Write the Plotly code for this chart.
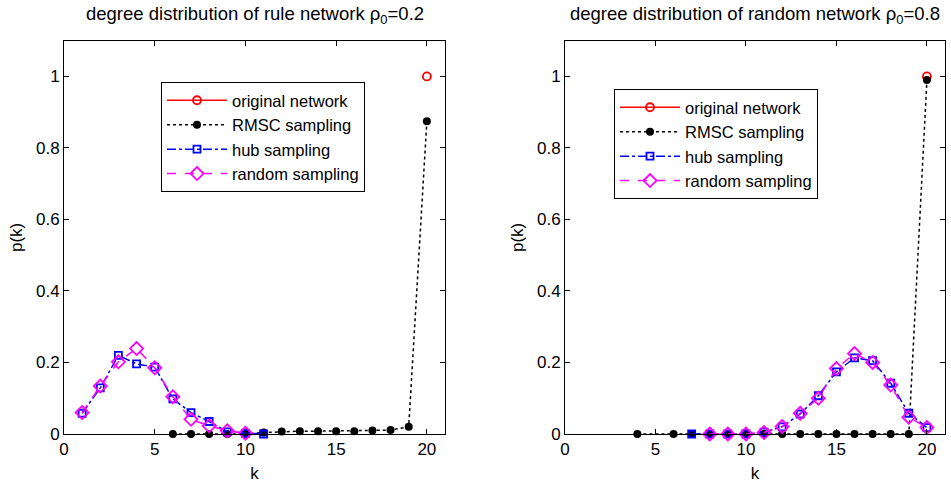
import plotly.graph_objects as go

# ---- data: rule network, rho0 = 0.2 ----
rule_orig_k = [20]
rule_orig_p = [1.0]
rule_rmsc_k = [6, 7, 8, 9, 10, 11, 12, 13, 14, 15, 16, 17, 18, 19, 20]
rule_rmsc_p = [0, 0, 0, 0, 0, 0.004, 0.007, 0.008, 0.008, 0.008, 0.008, 0.01, 0.011, 0.02, 0.875]
rule_hub_k = [1, 2, 3, 4, 5, 6, 7, 8, 9, 10, 11]
rule_hub_p = [0.058, 0.129, 0.22, 0.196, 0.187, 0.098, 0.06, 0.035, 0.006, 0.002, 0]
rule_rand_k = [1, 2, 3, 4, 5, 6, 7, 8, 9, 10]
rule_rand_p = [0.06, 0.134, 0.202, 0.239, 0.185, 0.104, 0.041, 0.023, 0.009, 0.002]

# ---- data: random network, rho0 = 0.8 ----
rand_orig_k = [20]
rand_orig_p = [1.0]
rand_rmsc_k = [4, 6, 7, 8, 9, 10, 11, 12, 13, 14, 15, 16, 17, 18, 19, 20]
rand_rmsc_p = [0, 0, 0, 0, 0, 0, 0, 0, 0, 0, 0, 0, 0, 0, 0, 0.99]
rand_hub_k = [7, 8, 9, 10, 11, 12, 13, 14, 15, 16, 17, 18, 19, 20]
rand_hub_p = [0, 0, 0, 0, 0.005, 0.02, 0.056, 0.107, 0.174, 0.213, 0.205, 0.142, 0.058, 0.018]
rand_rand_k = [8, 9, 10, 11, 12, 13, 14, 15, 16, 17, 18, 19, 20]
rand_rand_p = [0, 0, 0, 0.004, 0.021, 0.058, 0.1, 0.183, 0.225, 0.2, 0.137, 0.047, 0.018]

names = ["original network", "RMSC sampling", "hub sampling", "random sampling"]
x_ticks = [0, 5, 10, 15, 20]
y_ticks = [0, 0.2, 0.4, 0.6, 0.8, 1]
y_tick_text = ["0", "0.2", "0.4", "0.6", "0.8", "1"]

FONT = "Liberation Sans, Arial, Helvetica, sans-serif"

styles = [
    dict(line=dict(color="#ff0000", width=1.5, dash="solid"),
         marker=dict(symbol="circle-open", size=8, color="#ff0000", line=dict(width=1.8, color="#ff0000"))),
    dict(line=dict(color="#000000", width=1.5, dash="dot"),
         marker=dict(symbol="circle", size=8, color="#000000")),
    dict(line=dict(color="#0000ff", width=1.5, dash="dashdot"),
         marker=dict(symbol="square-open", size=7, color="#0000ff", line=dict(width=1.8, color="#0000ff"))),
    dict(line=dict(color="#ff00ff", width=1.5, dash="dash"),
         marker=dict(symbol="diamond-open", size=10, color="#ff00ff", line=dict(width=1.8, color="#ff00ff"))),
]

fig = go.Figure()

panels = [
    ("x", "y", "legend", [(rule_orig_k, rule_orig_p), (rule_rmsc_k, rule_rmsc_p),
                          (rule_hub_k, rule_hub_p), (rule_rand_k, rule_rand_p)]),
    ("x2", "y2", "legend2", [(rand_orig_k, rand_orig_p), (rand_rmsc_k, rand_rmsc_p),
                             (rand_hub_k, rand_hub_p), (rand_rand_k, rand_rand_p)]),
]

for xa, ya, lg, series in panels:
    for name, (k, p), st in zip(names, series, styles):
        fig.add_trace(go.Scatter(x=k, y=p, name=name, mode="lines+markers",
                                 xaxis=xa, yaxis=ya, legend=lg, cliponaxis=False,
                                 line=st["line"], marker=st["marker"]))

axis_common = dict(showgrid=False, zeroline=False, showline=True, linecolor="black",
                   linewidth=1, mirror="ticks", ticks="inside", ticklen=5, tickcolor="black",
                   automargin=False,
                   tickfont=dict(family=FONT, size=17, color="black"))

xdom1 = [64 / 951, 445 / 951]
xdom2 = [565 / 951, 945 / 951]
ydom = [1 - 434 / 485, 1 - 40.7 / 485]

legend_common = dict(xanchor="left", yanchor="top",
                     bgcolor="white", bordercolor="black", borderwidth=1,
                     font=dict(family=FONT, size=16.5, color="black"),
                     tracegroupgap=0, itemwidth=60)

fig.update_layout(
    width=951, height=485,
    margin=dict(l=0, r=0, t=0, b=0),
    paper_bgcolor="white", plot_bgcolor="white",
    font=dict(family=FONT, color="black"),
    xaxis=dict(domain=xdom1, range=[0, 21], tickvals=x_ticks, anchor="y",
               title=dict(text="k", font=dict(size=17), standoff=8), **axis_common),
    yaxis=dict(domain=ydom, range=[0, 1.1], tickvals=y_ticks, ticktext=y_tick_text, anchor="x",
               title=dict(text="p(k)", font=dict(size=17), standoff=9), **axis_common),
    xaxis2=dict(domain=xdom2, range=[0, 21], tickvals=x_ticks, anchor="y2",
                title=dict(text="k", font=dict(size=17), standoff=8), **axis_common),
    yaxis2=dict(domain=ydom, range=[0, 1.1], tickvals=y_ticks, ticktext=y_tick_text, anchor="x2",
                title=dict(text="p(k)", font=dict(size=17), standoff=9), **axis_common),
    legend=dict(x=161 / 951, y=1 - 82 / 485, **legend_common),
    legend2=dict(x=614 / 951, y=1 - 89 / 485, **legend_common),
    showlegend=True,
)

titles = [("degree distribution of rule network ρ<sub>0</sub>=0.2", (xdom1[0] + xdom1[1]) / 2),
          ("degree distribution of random network ρ<sub>0</sub>=0.8", (xdom2[0] + xdom2[1]) / 2)]
for text, xc in titles:
    fig.add_annotation(text=text, x=xc, y=1 - 1 / 485, xref="paper", yref="paper",
                       xanchor="center", yanchor="top", showarrow=False,
                       font=dict(family=FONT, size=18.5, color="black"))

fig.write_html("out.html")
